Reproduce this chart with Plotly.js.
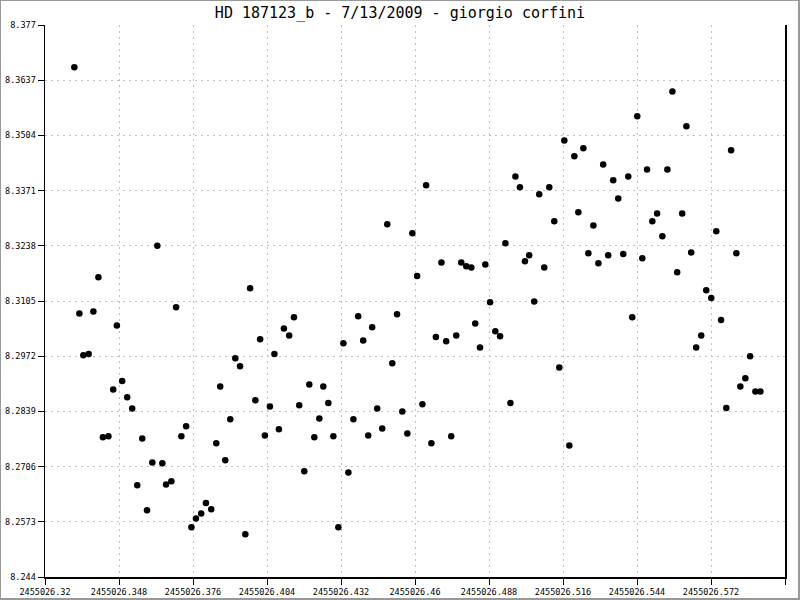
<!DOCTYPE html>
<html>
<head>
<meta charset="utf-8">
<script src="https://cdn.plot.ly/plotly-3.0.1.min.js"></script>
<style>
html,body{margin:0;padding:0;background:#fff;}
#wrap{position:relative;width:800px;height:600px;}
#chart{position:absolute;left:0;top:0;width:800px;height:600px;}
#frame{position:absolute;left:0;top:0;width:800px;height:600px;box-sizing:border-box;
 border-top:1px solid #999;border-left:1px solid #999;border-right:2px solid #999;border-bottom:2px solid #999;pointer-events:none;}
</style>
</head>
<body>
<div id="wrap"><div id="chart"></div><div id="frame"></div></div>
<script>
const chartTitle = "HD 187123_b - 7/13/2009 - giorgio corfini";

const jd = [
2455026.3311,2455026.3330,2455026.3345,2455026.3365,2455026.3383,2455026.3402,2455026.3419,2455026.3440,2455026.3458,2455026.3472,
2455026.3492,2455026.3511,2455026.3530,2455026.3549,2455026.3568,2455026.3586,2455026.3606,2455026.3625,2455026.3644,2455026.3658,
2455026.3678,2455026.3696,2455026.3716,2455026.3734,2455026.3754,2455026.3771,2455026.3791,2455026.3809,2455026.3829,2455026.3848,
2455026.3863,2455026.3882,2455026.3901,2455026.3920,2455026.3938,2455026.3958,2455026.3976,2455026.3996,2455026.4014,2455026.4032,
2455026.4051,2455026.4068,2455026.4085,2455026.4104,2455026.4124,2455026.4142,2455026.4162,2455026.4181,2455026.4200,2455026.4219,
2455026.4238,2455026.4253,2455026.4272,2455026.4291,2455026.4310,2455026.4329,2455026.4348,2455026.4367,2455026.4385,2455026.4404,
2455026.4423,2455026.4438,2455026.4457,2455026.4476,2455026.4495,2455026.4514,2455026.4532,2455026.4552,2455026.4571,2455026.4590,
2455026.4608,2455026.4628,2455026.4642,2455026.4662,2455026.4679,2455026.4700,2455026.4718,2455026.4737,2455026.4756,2455026.4775,
2455026.4794,2455026.4813,2455026.4828,2455026.4846,2455026.4866,2455026.4884,2455026.4904,2455026.4922,2455026.4942,2455026.4961,
2455026.4980,2455026.4997,2455026.5016,2455026.5032,2455026.5051,2455026.5070,2455026.5089,2455026.5108,2455026.5127,2455026.5146,
2455026.5165,2455026.5184,2455026.5203,2455026.5218,2455026.5237,2455026.5256,2455026.5275,2455026.5294,2455026.5312,2455026.5331,
2455026.5350,2455026.5369,2455026.5388,2455026.5407,2455026.5422,2455026.5441,2455026.5460,2455026.5478,2455026.5498,2455026.5516,
2455026.5536,2455026.5555,2455026.5574,2455026.5592,2455026.5611,2455026.5627,2455026.5645,2455026.5664,2455026.5683,2455026.5702,
2455026.5721,2455026.5740,2455026.5758,2455026.5778,2455026.5796,2455026.5816,2455026.5831,2455026.5850,2455026.5868,2455026.5888,
2455026.5907
];

const mag = [
8.3668,8.3075,8.2974,8.2977,8.3080,8.3162,8.2777,8.2779,8.2892,8.3046,
8.2912,8.2873,8.2846,8.2661,8.2774,8.2601,8.2716,8.3238,8.2714,8.2663,
8.2671,8.3090,8.2779,8.2803,8.2560,8.2581,8.2593,8.2618,8.2603,8.2762,
8.2899,8.2721,8.2820,8.2967,8.2948,8.2543,8.3136,8.2866,8.3013,8.2781,
8.2851,8.2977,8.2796,8.3039,8.3022,8.3066,8.2854,8.2695,8.2904,8.2777,
8.2822,8.2899,8.2859,8.2779,8.2560,8.3003,8.2692,8.2820,8.3068,8.3010,
8.2781,8.3042,8.2846,8.2798,8.3290,8.2955,8.3073,8.2839,8.2786,8.3268,
8.3165,8.2856,8.3384,8.2762,8.3018,8.3198,8.3008,8.2779,8.3022,8.3198,
8.3189,8.3186,8.3051,8.2993,8.3193,8.3102,8.3032,8.3020,8.3244,8.2859,
8.3405,8.3379,8.3201,8.3215,8.3104,8.3362,8.3186,8.3379,8.3297,8.2945,
8.3492,8.2757,8.3454,8.3319,8.3473,8.3220,8.3287,8.3196,8.3434,8.3215,
8.3396,8.3352,8.3218,8.3405,8.3066,8.3550,8.3208,8.3422,8.3297,8.3316,
8.3261,8.3422,8.3610,8.3174,8.3316,8.3526,8.3222,8.2993,8.3022,8.3131,
8.3112,8.3273,8.3059,8.2847,8.3468,8.3220,8.2899,8.2919,8.2972,8.2887,
8.2887
];

const xTickVals = [2455026.32,2455026.348,2455026.376,2455026.404,2455026.432,2455026.46,2455026.488,2455026.516,2455026.544,2455026.572,2455026.6];
const xTickText = ["2455026.32","2455026.348","2455026.376","2455026.404","2455026.432","2455026.46","2455026.488","2455026.516","2455026.544","2455026.572","2455026.6"];
const yTickVals = [8.244,8.2573,8.2706,8.2839,8.2972,8.3105,8.3238,8.3371,8.3504,8.3637,8.377];
const yTickText = ["8.244","8.2573","8.2706","8.2839","8.2972","8.3105","8.3238","8.3371","8.3504","8.3637","8.377"];

const mono = "DejaVu Sans Mono, Liberation Mono, monospace";

const trace = {
  x: jd, y: mag, type: "scatter", mode: "markers",
  marker: {color: "#000", size: 6.5, line: {width: 0}},
  hoverinfo: "skip"
};

const layout = {
  width: 800, height: 600,
  margin: {l: 45, r: 15, t: 25, b: 23, pad: 0},
  paper_bgcolor: "#fff", plot_bgcolor: "#fff",
  showlegend: false,
  title: {text: chartTitle, x: 0.5, xanchor: "center", y: 1 - 13/600, yanchor: "middle", yref: "container",
          font: {family: mono, size: 15, color: "#000"}},
  xaxis: {
    range: [2455026.32, 2455026.6], autorange: false,
    tickmode: "array", tickvals: xTickVals, ticktext: xTickText,
    ticks: "outside", ticklen: 6, tickwidth: 1, tickcolor: "#000",
    showline: true, linecolor: "#000", linewidth: 1.5,
    showgrid: true, gridcolor: "#c0c0c0", griddash: "2px,4px", gridwidth: 1,
    zeroline: false, tickfont: {family: mono, size: 8.5, color: "#000"},
    tickangle: 0
  },
  yaxis: {
    range: [8.244, 8.377], autorange: false,
    tickmode: "array", tickvals: yTickVals, ticktext: yTickText,
    ticks: "outside", ticklen: 6, tickwidth: 1, tickcolor: "#000",
    showline: true, linecolor: "#000", linewidth: 1.5, mirror: true,
    showgrid: true, gridcolor: "#c0c0c0", griddash: "2px,4px", gridwidth: 1,
    zeroline: false, tickfont: {family: mono, size: 8.5, color: "#000"}
  }
};

Plotly.newPlot("chart", [trace], layout, {staticPlot: true, displayModeBar: false});
</script>
</body>
</html>
